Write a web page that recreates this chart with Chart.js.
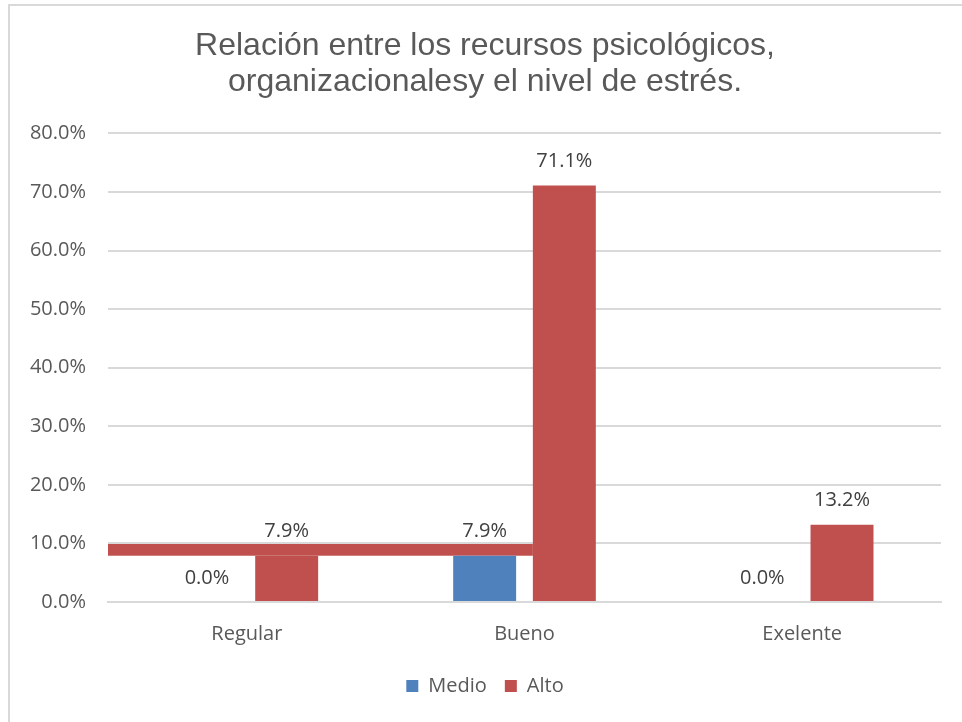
<!DOCTYPE html>
<html>
<head>
<meta charset="utf-8">
<script src="https://cdn.jsdelivr.net/npm/chart.js@4.4.0/dist/chart.umd.min.js"></script>
<style>
  body { margin: 0; background: #fff; }
  #marco { position: absolute; left: 8px; top: 4px; width: 960px; height: 720px;
           border-left: 2px solid #d9d9d9; border-top: 2px solid #d9d9d9; }
  #wrap { position: absolute; left: 10px; top: 6px; width: 952px; height: 716px; }
</style>
</head>
<body>
<div id="marco"></div>
<div id="wrap"><canvas id="grafico"></canvas></div>
<script>
// Datos
var categorias = ['Regular', 'Bueno', 'Exelente'];
var medio = [0.0, 7.9, 0.0];
var alto = [7.9, 71.1, 13.2];
var ticksEje = [0, 10, 20, 30, 40, 50, 60, 70, 80];
// franja roja que aparece sobre el gráfico (valores del eje)
var bandaRoja = [7.9, 9.9];

var colorTexto = '#595959';
var fuente = '"Open Sans"';

// Etiquetas de datos encima de cada barra
var etiquetasPlugin = {
    id: 'etiquetas',
    afterDatasetsDraw: function(chart) {
        var ctx = chart.ctx;
        ctx.save();
        ctx.font = '20px ' + fuente;
        ctx.fillStyle = '#404040';
        ctx.textAlign = 'center';
        ctx.textBaseline = 'middle';
        chart.data.datasets.forEach(function(ds, i) {
            chart.getDatasetMeta(i).data.forEach(function(bar, j) {
                ctx.fillText(ds.data[j].toFixed(1) + '%', bar.x, bar.y - 24);
            });
        });
        ctx.restore();
    }
};

// Franja roja horizontal desde el eje hasta la barra Alto de "Bueno"
var franjaPlugin = {
    id: 'franja',
    beforeDatasetsDraw: function(chart) {
        var ctx = chart.ctx;
        var y = chart.scales.y;
        var barra = chart.getDatasetMeta(1).data[1];
        var izq = chart.chartArea.left;
        var der = barra.x - barra.width / 2;
        var arriba = y.getPixelForValue(bandaRoja[1]);
        var abajo = y.getPixelForValue(bandaRoja[0]);
        ctx.save();
        ctx.fillStyle = '#C0504D';
        ctx.fillRect(izq, arriba, der - izq, abajo - arriba);
        ctx.restore();
    }
};

var ctx = document.getElementById('grafico').getContext('2d');
var grafico = new Chart(ctx, {
    type: 'bar',
    data: {
        labels: categorias,
        datasets: [{
            label: 'Medio',
            data: medio,
            backgroundColor: '#4F81BD',
            categoryPercentage: 0.574,
            barPercentage: 0.79
        }, {
            label: 'Alto',
            data: alto,
            backgroundColor: '#C0504D',
            categoryPercentage: 0.574,
            barPercentage: 0.79
        }]
    },
    options: {
        responsive: true,
        maintainAspectRatio: false,
        animation: false,
        layout: { padding: { left: 19, right: 21, top: 0, bottom: 16 } },
        plugins: {
            title: {
                display: true,
                text: ['Relación entre los recursos psicológicos,', 'organizacionalesy el nivel de estrés.'],
                color: colorTexto,
                font: { family: '"Liberation Sans", Arial', size: 32, weight: 'normal', lineHeight: 1.1 },
                padding: { top: 23, bottom: 34 }
            },
            legend: {
                position: 'bottom',
                labels: {
                    color: colorTexto,
                    font: { family: fuente, size: 20 },
                    boxWidth: 12,
                    boxHeight: 12,
                    padding: 18
                }
            },
            tooltip: { enabled: false }
        },
        scales: {
            x: {
                grid: { display: false },
                border: { color: '#d9d9d9', width: 2 },
                ticks: { color: colorTexto, font: { family: fuente, size: 20 }, padding: 12 }
            },
            y: {
                min: 0,
                max: 80,
                afterBuildTicks: function(axis) {
                    axis.ticks = ticksEje.map(function(v) { return { value: v }; });
                },
                afterFit: function(axis) { axis.width = 79; },
                grid: { color: '#d9d9d9', lineWidth: 2, drawTicks: false },
                border: { display: false },
                ticks: {
                    color: colorTexto,
                    font: { family: fuente, size: 20 },
                    padding: 22,
                    callback: function(v) { return v.toFixed(1) + '%'; }
                }
            }
        }
    },
    plugins: [franjaPlugin, etiquetasPlugin]
});
</script>
</body>
</html>
